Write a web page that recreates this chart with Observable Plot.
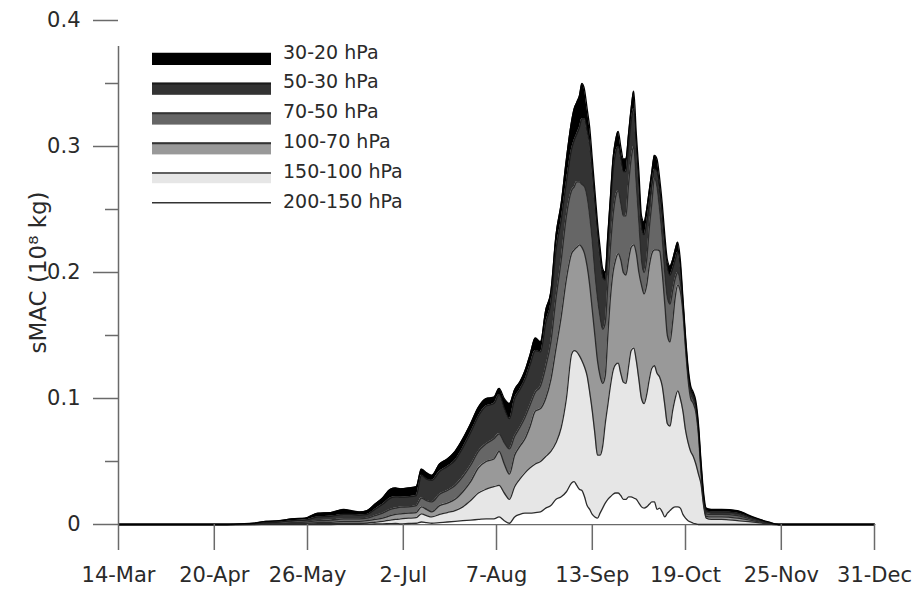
<!DOCTYPE html>
<html>
<head>
<meta charset="utf-8">
<script src="https://cdn.jsdelivr.net/npm/d3@7"></script>
<script src="https://cdn.jsdelivr.net/npm/@observablehq/plot@0.6"></script>
<style>
  body { margin: 0; background: #fff; }
  #wrap { position: relative; width: 916px; height: 590px; }
  #legend { position: absolute; left: 0; top: 0; pointer-events: none; }
</style>
</head>
<body>
<div id="wrap"></div>
<script>
// ---- data (day of year; cumulative tops of the stacked layers, 10^8 kg) ----
const days = [
  73,100,115,120,125,130,135,140,145,150,155,160,163,166,169,172,175,178,180,182,185,188,190,192,194,197,200,203,206,209,212,215,218,220,222,224,226,228,230,232,234,236,238,240,242,244,246,
  248,249,250,251,252,253,254,255,256,257,258,259,260,261,262,263,264,265,266,267,268,269,270,271,272,273,274,275,276,277,278,279,280,281,282,283,284,285,286,287,288,289,290,291,292,293,294,295,296,297,298,299,300,
  302,306,312,318,324,328,340,365
];
const top_30_20 = [
  0,0,0,0.0005,0.001,0.0025,0.003,0.0045,0.005,0.009,0.0095,0.012,0.011,0.01,0.011,0.016,0.021,0.028,0.029,0.0283,0.029,0.030,0.044,0.041,0.039,0.048,0.052,0.058,0.068,0.08,0.093,0.1,0.101,0.108,0.1,0.096,0.107,0.113,0.122,0.135,0.148,0.145,0.17,0.185,0.23,0.255,0.29,
  0.32,0.33,0.335,0.34,0.35,0.345,0.33,0.315,0.29,0.265,0.24,0.22,0.203,0.2,0.23,0.26,0.29,0.305,0.312,0.3,0.29,0.29,0.31,0.33,0.344,0.31,0.28,0.245,0.24,0.25,0.265,0.28,0.293,0.29,0.275,0.255,0.23,0.21,0.205,0.21,0.218,0.224,0.21,0.18,0.15,0.125,0.11,0.105,0.098,0.08,0.05,0.025,0.013,
  0.012,0.012,0.011,0.006,0.002,0,0,0
];
const top_50_30 = [
  0,0,0,0.0003,0.0006,0.0015,0.002,0.003,0.0035,0.006,0.0065,0.008,0.008,0.0075,0.008,0.012,0.016,0.021,0.022,0.0217,0.022,0.023,0.039,0.036,0.035,0.042,0.046,0.051,0.061,0.073,0.086,0.094,0.096,0.103,0.092,0.084,0.1,0.107,0.115,0.127,0.138,0.137,0.16,0.176,0.218,0.242,0.272,
  0.298,0.305,0.31,0.315,0.322,0.322,0.312,0.302,0.28,0.255,0.232,0.212,0.196,0.194,0.222,0.252,0.28,0.295,0.3,0.29,0.28,0.28,0.3,0.32,0.33,0.3,0.27,0.235,0.23,0.24,0.255,0.27,0.282,0.28,0.265,0.245,0.222,0.203,0.198,0.203,0.21,0.216,0.205,0.177,0.147,0.122,0.107,0.102,0.095,0.077,0.047,0.022,0.011,
  0.010,0.010,0.009,0.005,0.0015,0,0,0
];
const top_70_50 = [
  0,0,0,0.0001,0.0003,0.0007,0.001,0.0015,0.002,0.003,0.0035,0.0045,0.0045,0.0045,0.005,0.007,0.009,0.012,0.013,0.0138,0.014,0.015,0.021,0.019,0.018,0.024,0.027,0.031,0.038,0.047,0.058,0.064,0.068,0.072,0.065,0.06,0.07,0.077,0.085,0.095,0.105,0.11,0.125,0.145,0.18,0.21,0.245,
  0.265,0.268,0.272,0.272,0.27,0.268,0.26,0.245,0.225,0.2,0.18,0.165,0.155,0.16,0.19,0.22,0.245,0.26,0.265,0.255,0.245,0.245,0.27,0.29,0.3,0.27,0.24,0.21,0.2,0.21,0.235,0.255,0.275,0.268,0.25,0.228,0.2,0.18,0.175,0.185,0.195,0.2,0.192,0.174,0.143,0.119,0.104,0.099,0.092,0.074,0.044,0.02,0.0085,
  0.008,0.008,0.007,0.004,0.001,0,0,0
];
const top_100_70 = [
  0,0,0,0,0.0001,0.0003,0.0005,0.0008,0.001,0.0015,0.0018,0.0025,0.0025,0.0025,0.003,0.004,0.005,0.007,0.008,0.0085,0.009,0.0095,0.014,0.012,0.01,0.015,0.017,0.02,0.026,0.034,0.045,0.05,0.052,0.058,0.048,0.04,0.055,0.062,0.068,0.078,0.09,0.092,0.1,0.115,0.14,0.165,0.195,
  0.215,0.218,0.22,0.222,0.22,0.215,0.205,0.19,0.17,0.15,0.13,0.118,0.112,0.118,0.15,0.18,0.2,0.21,0.215,0.21,0.2,0.198,0.21,0.22,0.222,0.215,0.2,0.19,0.183,0.19,0.205,0.215,0.218,0.218,0.217,0.2,0.175,0.15,0.145,0.16,0.18,0.19,0.185,0.168,0.14,0.115,0.1,0.096,0.089,0.071,0.041,0.018,0.0065,
  0.006,0.006,0.005,0.003,0.0007,0,0,0
];
const top_150_100 = [
  0,0,0,0,0,0.0001,0.0002,0.0003,0.0004,0.0006,0.0008,0.001,0.001,0.001,0.0012,0.0018,0.0025,0.0035,0.004,0.0045,0.005,0.0055,0.0085,0.007,0.006,0.008,0.0095,0.011,0.014,0.019,0.025,0.028,0.03,0.031,0.025,0.02,0.03,0.036,0.041,0.045,0.048,0.05,0.054,0.058,0.065,0.077,0.1,
  0.135,0.138,0.137,0.134,0.13,0.125,0.118,0.105,0.09,0.072,0.055,0.055,0.062,0.08,0.095,0.11,0.122,0.127,0.128,0.12,0.113,0.112,0.125,0.138,0.14,0.13,0.115,0.1,0.096,0.103,0.115,0.124,0.126,0.12,0.117,0.11,0.095,0.08,0.078,0.09,0.1,0.106,0.1,0.09,0.075,0.065,0.058,0.054,0.048,0.04,0.032,0.015,0.005,
  0.004,0.004,0.003,0.002,0.0004,0,0,0
];
const top_200_150 = [
  0,0,0,0,0,0,0,0,0,0,0,0.0002,0.0002,0.0002,0.0003,0.0004,0.0005,0.0007,0.0008,0.0005,0.0008,0.001,0.002,0.0015,0.001,0.0015,0.002,0.0025,0.003,0.0035,0.004,0.0045,0.0045,0.006,0.003,0.001,0.006,0.008,0.009,0.009,0.0095,0.01,0.013,0.015,0.02,0.022,0.026,
  0.033,0.034,0.031,0.028,0.027,0.022,0.015,0.012,0.008,0.006,0.005,0.009,0.013,0.017,0.02,0.022,0.024,0.025,0.025,0.023,0.02,0.02,0.022,0.022,0.021,0.02,0.017,0.014,0.013,0.014,0.016,0.018,0.018,0.012,0.013,0.01,0.006,0.009,0.011,0.013,0.014,0.014,0.013,0.008,0.005,0.003,0.002,0.001,0.0005,0,0,0,0,
  0,0,0,0,0,0,0,0
];

const layerNames = ["200-150 hPa","150-100 hPa","100-70 hPa","70-50 hPa","50-30 hPa","30-20 hPa"]; // bottom -> top
const layerTops  = [top_200_150, top_150_100, top_100_70, top_70_50, top_50_30, top_30_20];
const layerFills = ["#ffffff","#e6e6e6","#999999","#666666","#333333","#000000"];
const layerLines = ["#2b2b2b","#2b2b2b","#2b2b2b","#2b2b2b","#1a1a1a","#000000"];

const xTicks = [73,110,146,183,219,256,292,329,365];
const xTickLabels = ["14-Mar","20-Apr","26-May","2-Jul","7-Aug","13-Sep","19-Oct","25-Nov","31-Dec"];
const yTicks = [0,0.1,0.2,0.3,0.4];
const yTickLabels = ["0","0.1","0.2","0.3","0.4"];
const yMinorTicks = [0.05,0.15,0.25,0.35];
const yLabel = "sMAC (10\u2078 kg)";

// ---- build table ----
const rows = days.map((d, i) => {
  const r = {day: d};
  layerTops.forEach((arr, k) => { r["t" + k] = arr[i]; });
  return r;
});

const areas = layerTops.map((_, k) => Plot.areaY(rows, {
  x: "day",
  y1: k === 0 ? () => 0 : ("t" + (k - 1)),
  y2: "t" + k,
  fill: layerFills[k],
  curve: "monotone-x"
}));
const lines = layerTops.map((_, k) => Plot.lineY(rows, {
  x: "day", y: "t" + k, stroke: layerLines[k], strokeWidth: 1.3, curve: "monotone-x"
}));

const axisColor = "#6a6a6a";
const chart = Plot.plot({
  width: 916, height: 590,
  marginLeft: 118, marginRight: 42, marginTop: 20, marginBottom: 66,
  style: {fontFamily: "DejaVu Sans", fontSize: "21px", color: "#2a2a2a", background: "white", overflow: "visible"},
  x: {domain: [73, 365]},
  y: {domain: [0, 0.4]},
  marks: [
    Plot.ruleY([0], {stroke: axisColor, strokeWidth: 1.5}),
    ...areas,
    ...lines,
    Plot.ruleX([73], {y1: 0, y2: 0.4, insetBottom: -26, stroke: axisColor, strokeWidth: 1.5}),
    Plot.axisY({ticks: yTicks, tickSize: 25, tickPadding: 13, stroke: axisColor, strokeWidth: 1.5,
      tickFormat: d => yTickLabels[yTicks.indexOf(d)], label: null}),
    Plot.axisY({ticks: yMinorTicks, tickSize: 13, stroke: axisColor, strokeWidth: 1.5, tickFormat: () => "", label: null}),
    Plot.axisX({ticks: xTicks, tickSize: 26, tickPadding: 17, stroke: axisColor, strokeWidth: 1.5,
      tickFormat: d => xTickLabels[xTicks.indexOf(d)], label: null}),
    Plot.text([yLabel], {frameAnchor: "left", textAnchor: "middle", lineAnchor: "middle", rotate: -90, dx: -80, fontSize: 23, fill: "#2a2a2a"})
  ]
});

const wrap = document.getElementById("wrap");
wrap.appendChild(chart);

// ---- legend (inside the plot area, top-left) ----
const lg = d3.select(wrap).append("svg").attr("id", "legend")
  .attr("width", 916).attr("height", 590)
  .style("font-family", "DejaVu Sans").style("font-size", "19px");
const order = [5,4,3,2,1,0]; // legend lists top layer first
order.forEach((k, row) => {
  const top = 53 + row * 29.8;
  const g = lg.append("g");
  if (k > 0) {
    g.append("rect").attr("x", 152).attr("y", top).attr("width", 119)
      .attr("height", k === 1 ? 11 : 12).attr("fill", layerFills[k]);
  }
  g.append("line").attr("x1", 152).attr("x2", 271).attr("y1", top + 0.75).attr("y2", top + 0.75)
    .attr("stroke", k >= 4 ? layerLines[k] : "#333").attr("stroke-width", k <= 1 ? 1.5 : 2);
  g.append("text").attr("x", 283).attr("y", top + 5.5).attr("fill", "#2a2a2a").text(layerNames[k]);
});
</script>
</body>
</html>
